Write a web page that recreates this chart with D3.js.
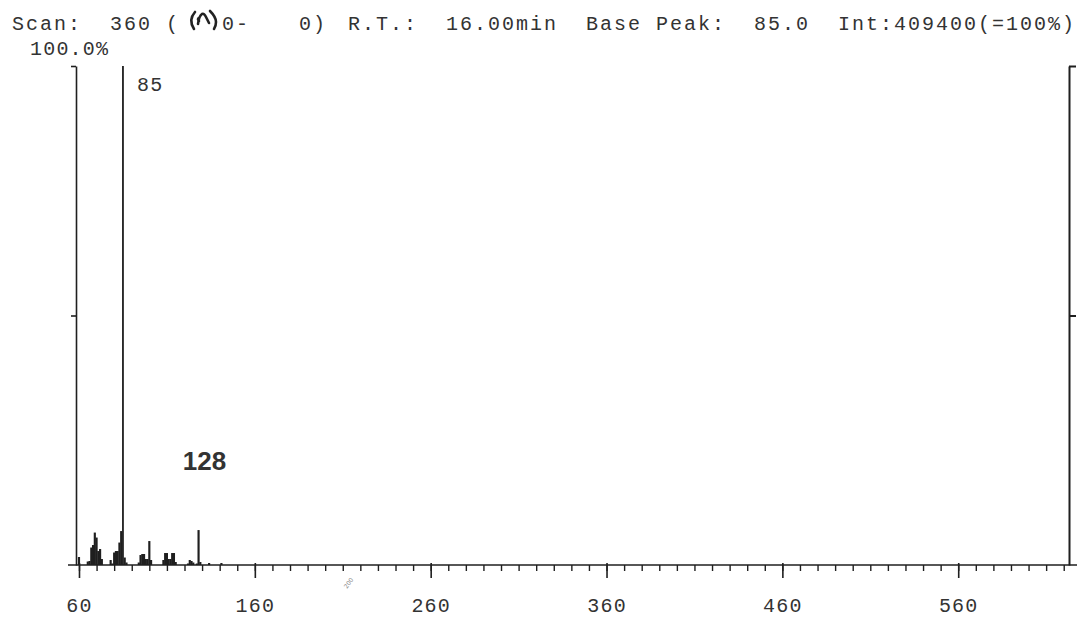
<!DOCTYPE html>
<html>
<head>
<meta charset="utf-8">
<script src="https://cdn.jsdelivr.net/npm/d3@7"></script>
<style>
  html, body { margin: 0; padding: 0; background: #fff; }
  svg { display: block; }
  .mono { font-family: "Liberation Mono", "DejaVu Sans Mono", monospace; font-size: 20px; letter-spacing: 1.2px; fill: #333; white-space: pre; }
  .hdr { letter-spacing: 2px; }
</style>
</head>
<body>
<svg id="chart" width="1081" height="619"></svg>
<script>
// Mass spectrum, scan 360: m/z values and relative intensities (% of base peak)
const mz = [60, 65, 66, 67, 68, 69, 70, 71, 72, 73,
            78, 79, 80, 81, 82, 83, 84, 85, 86, 87,
            94, 95, 96, 97, 98, 99, 100, 101,
            108, 109, 110, 111, 112, 113, 114, 115,
            122, 123, 124, 125, 127, 128, 129, 134, 141];
const intensity = [1.6, 0.7, 0.8, 3.5, 4.0, 6.5, 5.5, 2.8, 3.2, 1.2,
                   1.0, 0.3, 2.5, 2.8, 2.8, 4.5, 6.8, 100, 1.5, 0.5,
                   0.5, 2.0, 2.2, 2.2, 1.2, 1.2, 4.8, 1.0,
                   1.0, 2.4, 2.4, 1.2, 1.2, 2.4, 2.4, 0.6,
                   0.3, 1.0, 0.8, 0.5, 0.3, 7.0, 0.6, 0.4, 0.4];

// axis extents and ticks
const mzRange = [58.3, 623];
const minorTicks = d3.range(60, 621, 10);
const majorTicks = [60, 160, 260, 360, 460, 560];
const yTicks = [50, 100];

// peak annotations
const labeledPeaks = [85, 128];

// header fields, placed on a fixed character grid (column numbers)
const headerParts = [
  { t: "Scan:", col: 0 }, { t: "360", col: 7 }, { t: "(", col: 11 },
  { t: "0-", col: 15 }, { t: "0)", col: 20.5 }, { t: "R.T.:", col: 24 },
  { t: "16.00min", col: 31 }, { t: "Base Peak:", col: 41 }, { t: "85.0", col: 53 },
  { t: "Int:409400(=100%)", col: 59 }
];
const headerLeft = 12, headerPitch = 14;

const svg = d3.select("#chart");
const x = d3.scaleLinear().domain(mzRange).range([76, 1069]);
const y = d3.scaleLinear().domain([0, 100]).range([565, 66]);
const ink = "#1f1f1f";

// header line
svg.selectAll("text.hdr").data(headerParts).join("text")
  .attr("class", "mono hdr")
  .attr("x", d => headerLeft + d.col * headerPitch).attr("y", 30)
  .text(d => d.t);

// hand-written mark in the header
svg.append("path")
  .attr("d", "M195,12 Q188,20 194,29 M198,24 Q199,16 202,14 Q204,13 206,17 L209,23 M199,18 Q197,19 199,21 M210,11 Q216,17 216,22 Q216,26 214,29")
  .attr("fill", "none").attr("stroke", "#222").attr("stroke-width", 2.6)
  .attr("stroke-linecap", "round").attr("stroke-linejoin", "round");

// y-axis caption
svg.append("text").attr("class", "mono")
  .attr("x", 30).attr("y", 55).text("100.0%");

// left frame axis
svg.append("g").attr("transform", `translate(${x(mzRange[0])},0)`)
  .call(d3.axisLeft(y).tickValues(yTicks).tickSize(5).tickSizeOuter(0).tickFormat(""))
  .call(g => g.selectAll("path, line").attr("stroke", ink).attr("stroke-width", 1.6));

// right frame axis
svg.append("g").attr("transform", `translate(${x(mzRange[1])},0)`)
  .call(d3.axisRight(y).tickValues(yTicks).tickSize(7).tickSizeOuter(0).tickFormat(""))
  .call(g => g.selectAll("path, line").attr("stroke", ink).attr("stroke-width", 2));

// baseline
svg.append("line")
  .attr("x1", x(mzRange[0]) - 8).attr("x2", x(mzRange[1]) + 8)
  .attr("y1", y(0)).attr("y2", y(0))
  .attr("stroke", ink).attr("stroke-width", 1.6);

// minor ticks
svg.append("g").attr("transform", `translate(0,${y(0)})`)
  .call(d3.axisBottom(x).tickValues(minorTicks).tickSize(6).tickSizeOuter(0).tickFormat(""))
  .call(g => g.select(".domain").remove())
  .call(g => g.selectAll("line").attr("stroke", ink).attr("stroke-width", 1.4));

// major ticks with labels
svg.append("g").attr("transform", `translate(0,${y(0)})`)
  .call(d3.axisBottom(x).tickValues(majorTicks).tickSize(13).tickSizeOuter(0).tickFormat(d3.format("d")))
  .call(g => g.select(".domain").remove())
  .call(g => g.selectAll("line").attr("y1", -2).attr("stroke", ink).attr("stroke-width", 1.6))
  .call(g => g.selectAll("text").attr("class", "mono").attr("font-family", null).attr("font-size", null)
        .attr("fill", null).attr("y", 47).attr("dy", null));

// small pencil note under the axis
svg.append("text")
  .attr("transform", "translate(347,589) rotate(-55)")
  .attr("font-family", "DejaVu Sans, sans-serif").attr("font-size", 6)
  .attr("fill", "#888").text("200");

// peaks, one unit wide each (slight overlap so neighbouring masses merge)
const unit = x(mzRange[0] + 1) - x(mzRange[0]);
svg.append("g").selectAll("rect").data(mz.map((m, i) => ({ m, v: intensity[i] }))).join("rect")
  .attr("x", d => d.v >= 50 ? x(d.m) - 0.9 : x(d.m) - unit / 2 - 0.2)
  .attr("width", d => d.v >= 50 ? 1.8 : unit + 0.4)
  .attr("y", d => y(d.v))
  .attr("height", d => y(0) - y(d.v))
  .attr("fill", ink);

// peak labels
svg.append("text").attr("class", "mono")
  .attr("x", x(labeledPeaks[0]) + 14).attr("y", 91).text(String(labeledPeaks[0]));
svg.append("text")
  .attr("x", x(labeledPeaks[1]) + 6).attr("y", 470)
  .attr("text-anchor", "middle")
  .attr("font-family", "Liberation Sans, Arial, sans-serif").attr("font-weight", "bold")
  .attr("font-size", 26).attr("fill", "#333")
  .text(String(labeledPeaks[1]));
</script>
</body>
</html>
